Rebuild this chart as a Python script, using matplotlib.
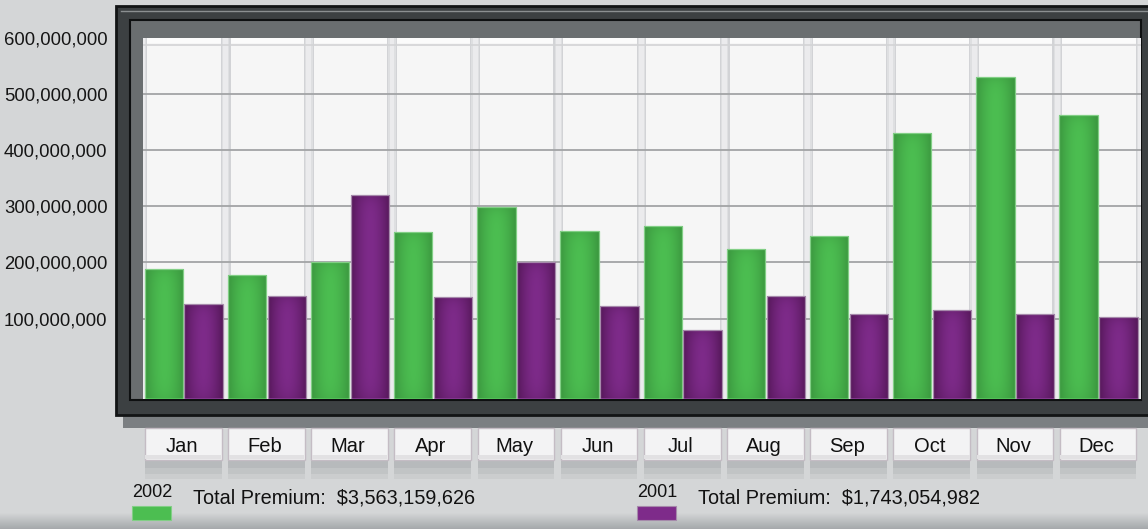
import numpy as np
import matplotlib.pyplot as plt
import matplotlib.transforms as mtransforms
from matplotlib.patches import Rectangle
from matplotlib.ticker import FuncFormatter

## Data (monthly premium)
months = ['Jan', 'Feb', 'Mar', 'Apr', 'May', 'Jun', 'Jul', 'Aug', 'Sep', 'Oct', 'Nov', 'Dec']
premium_2002 = np.array([188, 177, 201, 254, 299, 255, 264, 224, 247, 431, 530, 463]) * 1e6
premium_2001 = np.array([125, 140, 320, 139, 201, 123, 79, 140, 108, 115, 108, 103]) * 1e6
series_years = ['2002', '2001']
series_totals = ['$3,563,159,626', '$1,743,054,982']
y_ticks = np.arange(1, 7) * 1e8

## Styles
GREEN = ('#3b973f', '#4cbe51', '#82cf86')     # edge, centre, outline
PURPLE = ('#56185a', '#7e2b8a', '#a68aab')
Y_FLOOR = -42.4e6
Y_TOP = 600e6
FONT = 'Liberation Sans'

W, H = 1148, 529
fig = plt.figure(figsize=(W / 100, H / 100), dpi=100)

## Background axes in pixel coordinates
bg = fig.add_axes([0, 0, 1, 1], zorder=0)
bg.set_xlim(0, W)
bg.set_ylim(H, 0)
bg.axis('off')

top_c = np.array([0.835, 0.843, 0.847])
bot_c = np.array([0.64, 0.655, 0.665])
rows = np.arange(H)
fade = np.clip((rows - 512) / 17.0, 0, 1)[:, None]
grad = top_c + (bot_c - top_c) * fade
bg.imshow(grad[:, None, :], extent=[0, W, H, 0], aspect='auto', zorder=0)

## Frame around the plot
bg.add_patch(Rectangle((123, 413), W - 123, 15, fc='#7b7f82', lw=0, zorder=1))
bg.add_patch(Rectangle((116, 6), W - 110, 409, fc='#3c4042', ec='#121415', lw=2, zorder=2))
bg.plot([121, W], [11, 11], color='#8b8f91', lw=1, zorder=3)
bg.add_patch(Rectangle((130, 20), 1011, 380, fc='#6a6e70', ec='#0e1011', lw=1.5, zorder=3))

## Main axes
x0_px, x1_px, y0_px, y1_px = 142.5, 1140.5, 37.7, 398.5
ax = fig.add_axes([x0_px / W, 1 - y1_px / H, (x1_px - x0_px) / W, (y1_px - y0_px) / H], zorder=1)
ax.set_facecolor('#f6f6f6')
for s in ax.spines.values():
    s.set_visible(False)

x = np.arange(len(months))

## Column separators (light strip with shaded panel edges)
for b in np.arange(-0.5, 12, 1):
    ax.axvspan(b - 0.06, b + 0.06, color='#d2d3d6', lw=0, zorder=0.5)
    ax.axvspan(b - 0.045, b + 0.045, color='#dedfe1', lw=0, zorder=0.5)
    ax.axvspan(b - 0.03, b + 0.03, color='#ebebed', lw=0, zorder=0.5)
ax.axhspan(590e6, Y_TOP, color='#fbfbfb', lw=0, zorder=0.4)
ax.axhline(587e6, color='#d3d3d5', lw=1.2, zorder=0.6)

## Grid lines
for v in y_ticks[:-1]:
    ax.axhline(v, color='#a2a4a6', lw=1.3, zorder=1.5)

px_per_unit = (y1_px - y0_px) / (Y_TOP - Y_FLOOR)

def shade(bar, edge, centre):
    bx, by = bar.get_x(), bar.get_y()
    bw, bh = bar.get_width(), bar.get_height()
    h_px = bh * px_per_unit
    t = np.linspace(0, 1, 64)
    hw = 1 - np.abs(2 * t - 1) ** 1.8
    d = np.linspace(0, h_px, 160)
    vf = 1 - 0.5 * np.exp(-d / 7) - 0.3 * np.exp(-(h_px - d) / 10)
    w2 = (hw[None, :] * vf[:, None])[..., None]
    e = np.array(plt.matplotlib.colors.to_rgb(edge))
    c = np.array(plt.matplotlib.colors.to_rgb(centre))
    rgb = e + (c - e) * w2
    im = ax.imshow(rgb, extent=[bx, bx + bw, by, by + bh], aspect='auto',
                   interpolation='bilinear', zorder=3)
    im.set_clip_path(bar)

## Bars
for vals, off, sty in [(premium_2002, -0.475, GREEN), (premium_2001, 0.005, PURPLE)]:
    bars = ax.bar(x + off, vals - Y_FLOOR, bottom=Y_FLOOR, width=0.46, align='edge',
                  color=sty[1], lw=0, zorder=2.9)
    for bar in bars:
        shade(bar, sty[0], sty[1])
    ax.bar(x + off, vals - Y_FLOOR, bottom=Y_FLOOR, width=0.46, align='edge',
           fill=False, edgecolor=sty[2], lw=0.9, zorder=3.2)

ax.set_xlim(-0.5, 11.5)
ax.set_ylim(Y_FLOOR, Y_TOP)
ax.set_xticks([])
ax.set_yticks(y_ticks)
ax.yaxis.set_major_formatter(FuncFormatter(lambda v, p: '{:,.0f}'.format(v)))
ax.tick_params(axis='y', length=0, pad=25.3, labelsize=13.3, labelcolor='#151515')
for lab in ax.get_yticklabels():
    lab.set_family(FONT)

## Month label boxes under the frame
ax_h = y1_px - y0_px
fy = lambda ypx: (y1_px - ypx) / ax_h
xt = ax.get_xaxis_transform()
for i, m in enumerate(months):
    for ya, yb, a in [(460, 479, 0.12), (460, 474, 0.15), (460, 468, 0.18)]:
        ax.add_patch(Rectangle((i - 0.47, fy(yb)), 0.92, fy(ya) - fy(yb), transform=xt,
                               fc='#8e9295', alpha=a, lw=0, clip_on=False))
    ax.add_patch(Rectangle((i - 0.47, fy(460)), 0.92, fy(428) - fy(460), transform=xt,
                           fc='#f3f3f4', ec='#c4bcc4', lw=1, clip_on=False))
    ax.add_patch(Rectangle((i - 0.465, fy(459)), 0.91, fy(455) - fy(459), transform=xt,
                           fc='#e2e1e3', lw=0, clip_on=False))
lab_tr = mtransforms.offset_copy(xt, fig=fig, y=-53.2, units='dots')
for i, m in enumerate(months):
    ax.text(i - 0.03, 0, m, transform=lab_tr, ha='center', va='baseline',
            fontsize=14.5, family=FONT, color='#111111')

## Legend
for yr, tot, sty, lx in zip(series_years, series_totals, [GREEN, PURPLE], [132, 637]):
    bg.text(lx, 497, yr, fontsize=13, family=FONT, va='baseline', color='#111111', zorder=5)
    bg.add_patch(Rectangle((lx, 506), 39, 13.5, fc=sty[1], ec=sty[2], lw=0.8, zorder=5))
    bg.text(lx + 61, 504, 'Total Premium:  ' + tot, fontsize=14.3, family=FONT,
            va='baseline', color='#111111', zorder=5)

fig.savefig('out.png', dpi=100)
